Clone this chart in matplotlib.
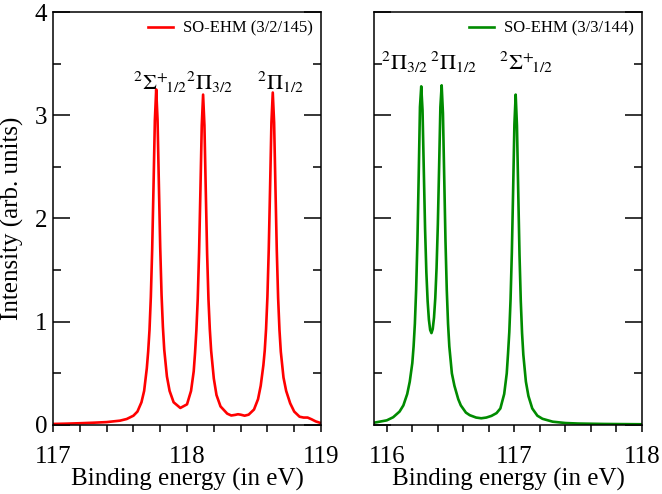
import matplotlib.pyplot as plt
from matplotlib.ticker import MultipleLocator

plt.rcParams['font.family'] = ['Liberation Serif', 'DejaVu Serif']
plt.rcParams['mathtext.fontset'] = 'stix'

# SO-EHM (3/2/145) spectrum
red_energy = [117.00, 117.10, 117.20, 117.30, 117.40, 117.50, 117.55, 117.60, 117.63, 117.66,
              117.68, 117.70, 117.71, 117.72, 117.73, 117.74, 117.75, 117.76, 117.77, 117.78,
              117.79, 117.80, 117.81, 117.82, 117.83, 117.85, 117.87, 117.90, 117.95, 118.00,
              118.03, 118.05, 118.06, 118.07, 118.08, 118.09, 118.10, 118.11, 118.12, 118.13,
              118.14, 118.15, 118.16, 118.17, 118.18, 118.20, 118.22, 118.25, 118.30, 118.33,
              118.36, 118.38, 118.40, 118.43, 118.46, 118.50, 118.53, 118.55, 118.57, 118.58,
              118.59, 118.60, 118.61, 118.62, 118.63, 118.64, 118.65, 118.66, 118.67, 118.68,
              118.69, 118.70, 118.72, 118.74, 118.77, 118.80, 118.84, 118.87, 118.90, 118.93,
              118.96, 119.00]
red_intensity = [0.010, 0.013, 0.017, 0.022, 0.028, 0.042, 0.058, 0.090, 0.13, 0.22,
                 0.33, 0.55, 0.71, 0.92, 1.24, 1.70, 2.31, 2.95, 3.25, 2.96,
                 2.33, 1.72, 1.26, 0.95, 0.73, 0.47, 0.33, 0.22, 0.165, 0.20,
                 0.33, 0.52, 0.70, 0.92, 1.22, 1.67, 2.27, 2.90, 3.20, 2.90,
                 2.27, 1.66, 1.22, 0.93, 0.72, 0.45, 0.29, 0.18, 0.11, 0.092,
                 0.098, 0.104, 0.100, 0.090, 0.10, 0.15, 0.25, 0.38, 0.58, 0.72,
                 0.93, 1.24, 1.70, 2.30, 2.93, 3.22, 2.93, 2.30, 1.69, 1.23,
                 0.92, 0.71, 0.46, 0.33, 0.21, 0.13, 0.08, 0.072, 0.072, 0.055,
                 0.035, 0.018]

# SO-EHM (3/3/144) spectrum
green_energy = [115.90, 116.00, 116.05, 116.10, 116.13, 116.16, 116.18, 116.20, 116.21, 116.22,
                116.23, 116.24, 116.25, 116.26, 116.27, 116.28, 116.29, 116.30, 116.31, 116.32,
                116.33, 116.34, 116.35, 116.36, 116.37, 116.38, 116.39, 116.40, 116.41, 116.42,
                116.43, 116.44, 116.45, 116.46, 116.47, 116.48, 116.49, 116.51, 116.53, 116.56,
                116.58, 116.62, 116.65, 116.70, 116.74, 116.78, 116.82, 116.86, 116.89, 116.92,
                116.94, 116.95, 116.96, 116.97, 116.98, 116.99, 117.00, 117.01, 117.02, 117.03,
                117.04, 117.05, 117.06, 117.07, 117.09, 117.11, 117.14, 117.18, 117.22, 117.30,
                117.40, 117.50, 117.70, 118.00]
green_intensity = [0.022, 0.045, 0.075, 0.13, 0.19, 0.30, 0.42, 0.60, 0.76, 0.98,
                   1.31, 1.78, 2.41, 3.08, 3.28, 3.05, 2.47, 1.90, 1.48, 1.20,
                   1.02, 0.92, 0.89, 0.93, 1.04, 1.23, 1.52, 1.94, 2.50, 3.08,
                   3.29, 3.02, 2.40, 1.78, 1.31, 0.98, 0.76, 0.50, 0.38, 0.25,
                   0.19, 0.12, 0.095, 0.072, 0.065, 0.072, 0.088, 0.115, 0.16, 0.30,
                   0.50, 0.69, 0.90, 1.22, 1.67, 2.27, 2.91, 3.20, 2.90, 2.26,
                   1.65, 1.20, 0.89, 0.68, 0.42, 0.28, 0.16, 0.09, 0.06, 0.032,
                   0.019, 0.014, 0.010, 0.007]

red_labels = [r'$^{2}\Sigma^{+}\!{}_{1/2}$', r'$^{2}\Pi_{3/2}$', r'$^{2}\Pi_{1/2}$']
red_label_x = [117.597, 117.99, 118.522]
green_labels = [r'$^{2}\Pi_{3/2}$', r'$^{2}\Pi_{1/2}$', r'$^{2}\Sigma^{+}\!{}_{1/2}$']
green_label_x = [115.958, 116.335, 116.877]

fig = plt.figure(figsize=(6.62, 4.94), dpi=100)
ax1 = fig.add_axes([0.0801, 0.1397, 0.4048, 0.836])
ax2 = fig.add_axes([0.565, 0.1397, 0.4048, 0.836])

ax1.plot(red_energy, red_intensity, color='#ff0000', lw=1.9, label='SO-EHM (3/2/145)')
ax2.plot(green_energy, green_intensity, color='#008b00', lw=1.9, label='SO-EHM (3/3/144)')

for lab, x in zip(red_labels, red_label_x):
    ax1.text(x, 3.25, lab, fontsize=16, ha='left', va='baseline')
for lab, x in zip(green_labels, green_label_x):
    ax2.text(x, 3.44, lab, fontsize=16, ha='left', va='baseline')

ax1.set_xlim(117, 119)
ax2.set_xlim(115.9, 118)
for ax in (ax1, ax2):
    ax.set_ylim(0, 4)
    ax.xaxis.set_major_locator(MultipleLocator(1))
    ax.xaxis.set_minor_locator(MultipleLocator(0.2))
    ax.yaxis.set_major_locator(MultipleLocator(1))
    ax.yaxis.set_minor_locator(MultipleLocator(0.5))
    ax.tick_params(axis='x', which='both', direction='out', labelsize=18, pad=10,
                   width=1.1, length=5)
    ax.tick_params(axis='y', which='both', direction='in', left=True, right=True,
                   labelsize=18, pad=4, width=1.1)
    ax.tick_params(axis='y', which='major', length=12)
    ax.tick_params(axis='y', which='minor', length=6)
    for s in ax.spines.values():
        s.set_linewidth(1.1)
    ax.set_xlabel('Binding energy (in eV)', fontsize=18, labelpad=0)
    ax.legend(loc='upper right', frameon=False, fontsize=12, handlelength=1.5,
              handletextpad=0.6, borderaxespad=0.4, borderpad=0.1)

ax2.tick_params(axis='y', labelleft=False)
ax1.set_ylabel('Intensity (arb. units)', fontsize=18, labelpad=8)

fig.savefig('out.png', dpi=100)
